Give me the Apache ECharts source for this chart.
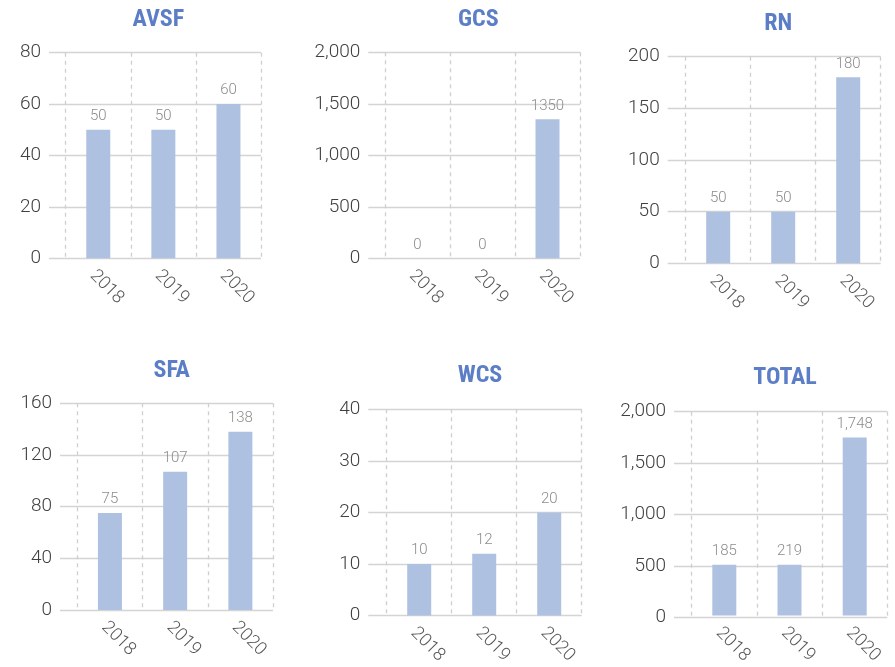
<!DOCTYPE html>
<html>
<head>
<meta charset="utf-8">
<script src="https://cdn.jsdelivr.net/npm/echarts@6/dist/echarts.min.js"></script>
<style>
html,body{margin:0;padding:0;background:#fff;}
#main{width:895px;height:667px;}
</style>
</head>
<body>
<div id="main"></div>
<script>
// ---- data ----
var categories = ['2018', '2019', '2020'];
var avsfValues = [50, 50, 60];
var gcsValues = [0, 0, 1350];
var rnValues = [50, 50, 180];
var sfaValues = [75, 107, 138];
var wcsValues = [10, 12, 20];
var totalValues = [500, 500, 1748];          // bar heights as drawn
var avsfLabels = ['50', '50', '60'];
var gcsLabels = ['0', '0', '1350'];
var rnLabels = ['50', '50', '180'];
var sfaLabels = ['75', '107', '138'];
var wcsLabels = ['10', '12', '20'];
var totalLabels = ['185', '219', '1,748'];   // labels as printed
var titles = ['AVSF', 'GCS', 'RN', 'SFA', 'WCS', 'TOTAL'];
var axisMax = [80, 2000, 200, 160, 40, 2000];
var axisStep = [20, 500, 50, 40, 10, 500];

// ---- layout (pixel positions) ----
var layout = [
  {hx0: 49,    dx0: 65.7,  x1: 261,   top: 52.7,  bot: 258.3, tx: 158.3, ty: 20},
  {hx0: 368.3, dx0: 385,   x1: 580,   top: 52.3,  bot: 258.3, tx: 478.3, ty: 20},
  {hx0: 667.7, dx0: 685.7, x1: 880.7, top: 56.7,  bot: 263.3, tx: 778.3, ty: 24},
  {hx0: 60,    dx0: 77.3,  x1: 273,   top: 403.3, bot: 610,   tx: 171.7, ty: 371},
  {hx0: 368.3, dx0: 386.7, x1: 581.7, top: 409.3, bot: 615.7, tx: 480,   ty: 376},
  {hx0: 674,   dx0: 691.7, x1: 887.3, top: 411.7, bot: 617.7, tx: 785,   ty: 378.3}
];
var valuesList = [avsfValues, gcsValues, rnValues, sfaValues, wcsValues, totalValues];
var labelsList = [avsfLabels, gcsLabels, rnLabels, sfaLabels, wcsLabels, totalLabels];

var W = 895, H = 667;
var FONT = 'Roboto';
var option = {
  animation: false,
  backgroundColor: '#ffffff',
  title: [], grid: [], xAxis: [], yAxis: [], series: []
};

layout.forEach(function (L, i) {
  option.title.push({
    text: titles[i],
    left: L.tx, top: L.ty - 12, padding: 0,
    textAlign: 'center',
    textStyle: {
      fontFamily: '"Liberation Sans Narrow", "Roboto Condensed", Roboto, sans-serif',
      fontWeight: 'bold', fontSize: 24, color: '#5B7EC7', lineHeight: 24
    }
  });
  // grid A: horizontal gridlines + y labels
  var ga = option.grid.length;
  option.grid.push({left: L.hx0, right: W - L.x1, top: L.top, bottom: H - L.bot, containLabel: false});
  option.xAxis.push({type: 'value', gridIndex: ga, show: false, min: 0, max: 1});
  option.yAxis.push({
    type: 'value', gridIndex: ga, min: 0, max: axisMax[i], interval: axisStep[i],
    axisLine: {show: false}, axisTick: {show: false},
    axisLabel: {margin: 8, color: '#404040', fontSize: 19, fontFamily: FONT, fontWeight: 300},
    splitLine: {show: true, lineStyle: {color: '#d4d4d4', width: 1.3}}
  });
  // grid B: categories + bars
  var gb = option.grid.length;
  option.grid.push({left: L.dx0, right: W - L.x1, top: L.top, bottom: H - L.bot, containLabel: false});
  option.xAxis.push({
    type: 'category', gridIndex: gb, data: categories,
    axisLine: {show: false}, axisTick: {show: false},
    axisLabel: {rotate: -45, margin: 9, verticalAlign: 'top', lineHeight: 16,
      color: '#555555', fontSize: 18, fontFamily: FONT, fontWeight: 300},
    splitLine: {show: true, lineStyle: {color: '#cfcfcf', type: [4, 4], width: 1.3}}
  });
  option.yAxis.push({type: 'value', gridIndex: gb, min: 0, max: axisMax[i], interval: axisStep[i], show: false});
  var labs = labelsList[i];
  option.series.push({
    type: 'bar', xAxisIndex: i * 2 + 1, yAxisIndex: i * 2 + 1,
    data: valuesList[i], barWidth: 24,
    itemStyle: {color: '#AFC1E1'},
    label: {
      show: true, position: 'top', distance: 6,
      color: '#8c8c8c', fontSize: 15, fontFamily: FONT, fontWeight: 300,
      formatter: function (p) { return labs[p.dataIndex]; }
    }
  });
});

var chart = echarts.init(document.getElementById('main'), null, {renderer: 'canvas'});
chart.setOption(option);
</script>
</body>
</html>
